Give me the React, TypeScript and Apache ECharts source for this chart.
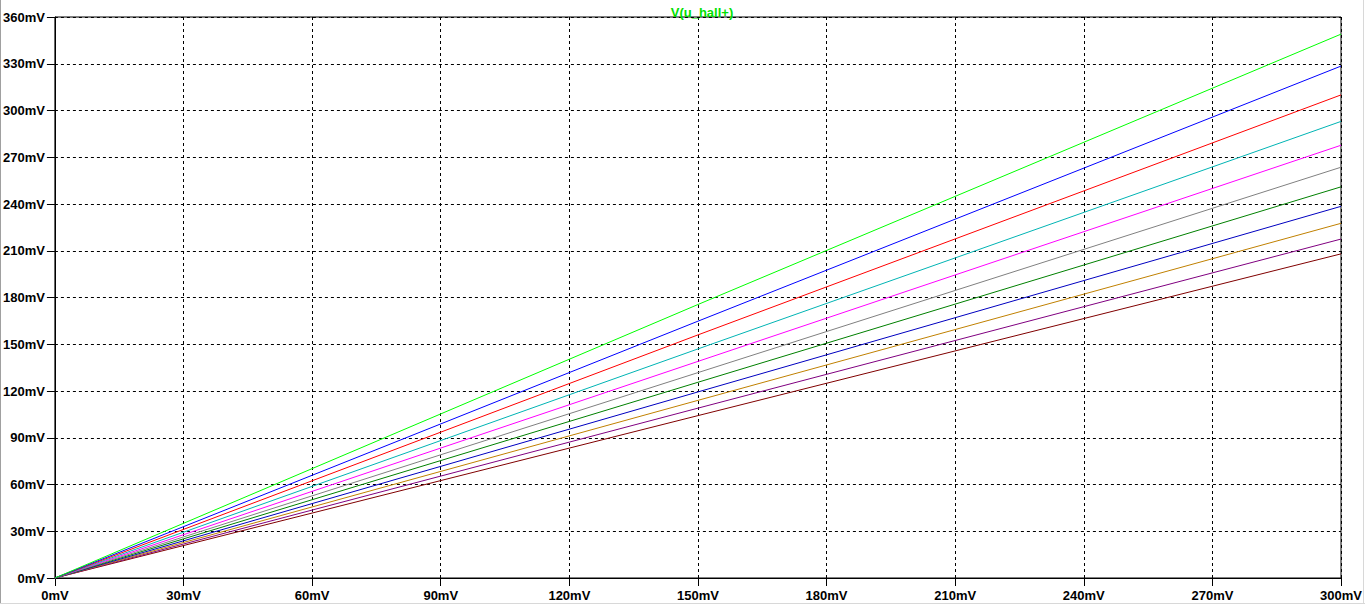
import React, { useEffect, useRef } from "react";
import * as echarts from "echarts";

const xValues = [0, 150, 300];
const traceColors = ["#00ff00", "#0000ff", "#ff0000", "#00b4b4", "#ff00ff", "#808080", "#008000", "#0000c0", "#c08000", "#800080", "#800000"];
const traceValues = [
  [0, 175.5, 349],
  [0, 164.8, 328.5],
  [0, 156, 310],
  [0, 147, 293],
  [0, 139, 277.7],
  [0, 131.8, 263.6],
  [0, 125.6, 251],
  [0, 119.4, 238.5],
  [0, 114, 227.6],
  [0, 109, 217.5],
  [0, 104.2, 208],
];
const title = "V(u_hall+)";

export default function App() {
  const ref = useRef<HTMLDivElement>(null);
  useEffect(() => {
    document.body.style.margin = "0";
    const chart = echarts.init(ref.current!, null, { renderer: "svg" });
    const font = "'Liberation Sans', Arial, sans-serif";
    const axisCommon = {
      axisLine: { show: true, lineStyle: { color: "#000", width: 1 } },
      axisTick: { show: true, length: 8, lineStyle: { color: "#000" } },
      splitLine: { show: true, lineStyle: { color: "#000", type: [3, 3], width: 1 } },
      axisLabel: {
        color: "#000",
        fontFamily: font,
        fontWeight: "bold",
        fontSize: 13,
        formatter: (v: number) => `${v}mV`,
      },
    };
    chart.setOption({
      animation: false,
      backgroundColor: "#fff",
      title: {
        text: title,
        left: 697,
        textAlign: "center",
        top: 1,
        textStyle: { color: "#00e000", fontFamily: font, fontWeight: "bold", fontSize: 13 },
      },
      grid: { left: 53, top: 17, right: 24, bottom: 29, show: true, borderColor: "#000", borderWidth: 1, backgroundColor: "transparent" },
      xAxis: {
        type: "value",
        min: 0,
        max: 300,
        interval: 30,
        ...axisCommon,
        axisLabel: { ...axisCommon.axisLabel, margin: 11, showMaxLabel: true, showMinLabel: true },
      },
      yAxis: {
        type: "value",
        min: 0,
        max: 360,
        interval: 30,
        ...axisCommon,
        axisLabel: { ...axisCommon.axisLabel, margin: 10 },
      },
      graphic: [
        { type: "line", shape: { x1: 0.5, y1: 0, x2: 0.5, y2: 603 }, style: { stroke: "#a0a0a0", lineWidth: 1 } },
        { type: "line", shape: { x1: 0, y1: 603.5, x2: 1365, y2: 603.5 }, style: { stroke: "#d8d8d8", lineWidth: 1 } },
        { type: "line", shape: { x1: 1363.5, y1: 0, x2: 1363.5, y2: 603 }, style: { stroke: "#d8d8d8", lineWidth: 1 } },
      ],
      series: traceValues.map((vals, i) => ({
        type: "line",
        data: vals.map((v, j) => [xValues[j], v]),
        showSymbol: false,
        lineStyle: { color: traceColors[i], width: 1 },
        itemStyle: { color: traceColors[i] },
        z: 20 - i,
      })),
    });
    return () => chart.dispose();
  }, []);
  return <div ref={ref} style={{ position: "absolute", left: 0, top: 0, width: 1365, height: 607 }} />;
}
